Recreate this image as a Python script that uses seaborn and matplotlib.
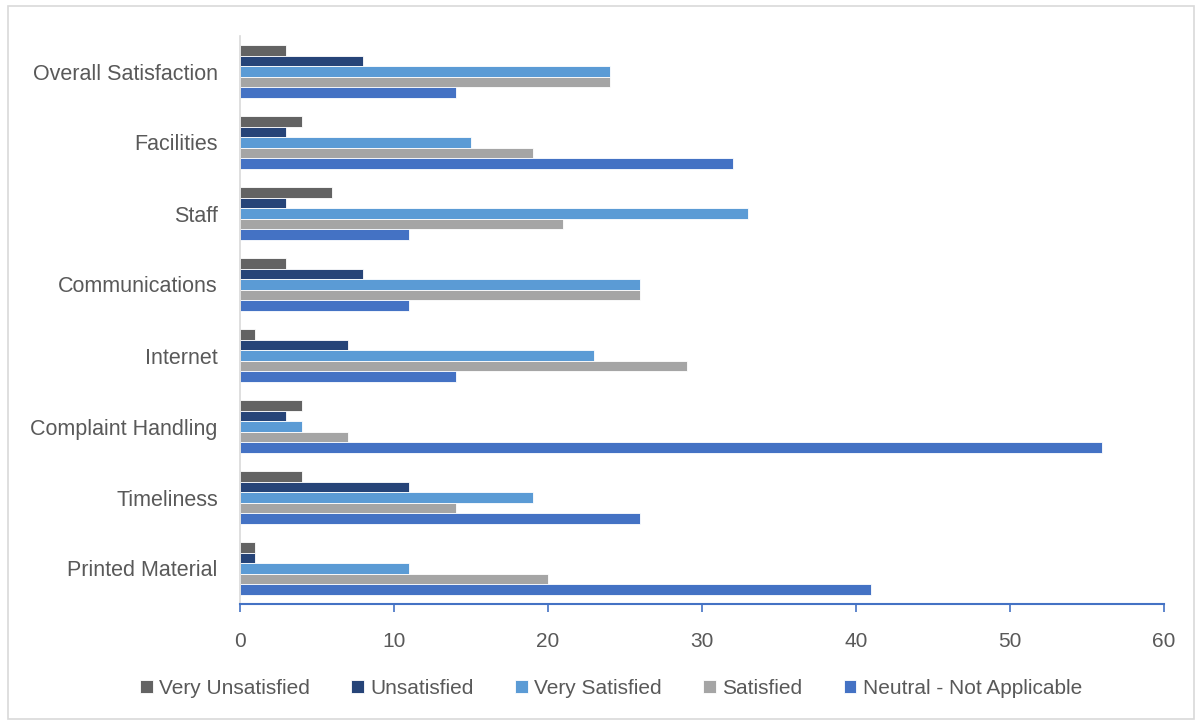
import matplotlib
matplotlib.use("Agg")
import matplotlib.pyplot as plt
import seaborn as sns
import pandas as pd
from matplotlib.patches import Rectangle

categories = ["Overall Satisfaction", "Facilities", "Staff", "Communications",
              "Internet", "Complaint Handling", "Timeliness", "Printed Material"]
series = ["Very Unsatisfied", "Unsatisfied", "Very Satisfied", "Satisfied",
          "Neutral - Not Applicable"]
very_unsatisfied = [3, 4, 6, 3, 1, 4, 4, 1]
unsatisfied = [8, 3, 3, 8, 7, 3, 11, 1]
very_satisfied = [24, 15, 33, 26, 23, 4, 19, 11]
satisfied = [24, 19, 21, 26, 29, 7, 14, 20]
neutral = [14, 32, 11, 11, 14, 56, 26, 41]
colors = ["#636363", "#264478", "#5B9BD5", "#A5A5A5", "#4472C4"]
xticks = [0, 10, 20, 30, 40, 50, 60]

values = [very_unsatisfied, unsatisfied, very_satisfied, satisfied, neutral]
rows = []
for s, vals in zip(series, values):
    for c, v in zip(categories, vals):
        rows.append({"Category": c, "Series": s, "Value": v})
df = pd.DataFrame(rows)

sns.set_style("white")
plt.rcParams["font.family"] = ["Liberation Sans", "DejaVu Sans"]

fig = plt.figure(figsize=(11.98, 7.25), dpi=100)
ax = fig.add_axes([240/1198, 1-604/725, (1164-240)/1198, (604-36)/725])

sns.barplot(data=df, y="Category", x="Value", hue="Series", order=categories,
            hue_order=series, palette=colors, orient="h", width=0.74,
            edgecolor="white", linewidth=0.6, ax=ax, saturation=1)

ax.set_xlim(0, 60)
ax.set_ylim(len(categories) - 0.5, -0.5)
ax.set_xticks(xticks)
ax.set_xlabel("")
ax.set_ylabel("")
text_color = "#595959"
ax.tick_params(axis="x", bottom=True, direction="out", length=6, color="#4472C4",
               width=1.2, labelsize=15, labelcolor=text_color, pad=14)
ax.tick_params(axis="y", left=False, length=0, labelsize=15.5,
               labelcolor=text_color, pad=16)
for side in ["top", "right"]:
    ax.spines[side].set_visible(False)
ax.spines["left"].set_color("#D9D9D9")
ax.spines["left"].set_linewidth(1.2)
ax.spines["bottom"].set_color("#4472C4")
ax.spines["bottom"].set_linewidth(1.5)

handles, labels = ax.get_legend_handles_labels()
ax.legend_.remove()
fig.legend(handles, labels, loc="center", bbox_to_anchor=(611/1198, 1-688/725),
           ncol=5, frameon=False, fontsize=15, labelcolor=text_color,
           handlelength=0.6, handleheight=0.6, handletextpad=0.3, columnspacing=2.0)

fig.patches.append(Rectangle((8/1198, 1-719/725), 1186/1198, 713/725,
                             transform=fig.transFigure, fill=False,
                             edgecolor="#D9D9D9", linewidth=1.2))

fig.savefig("out.png", dpi=100)
